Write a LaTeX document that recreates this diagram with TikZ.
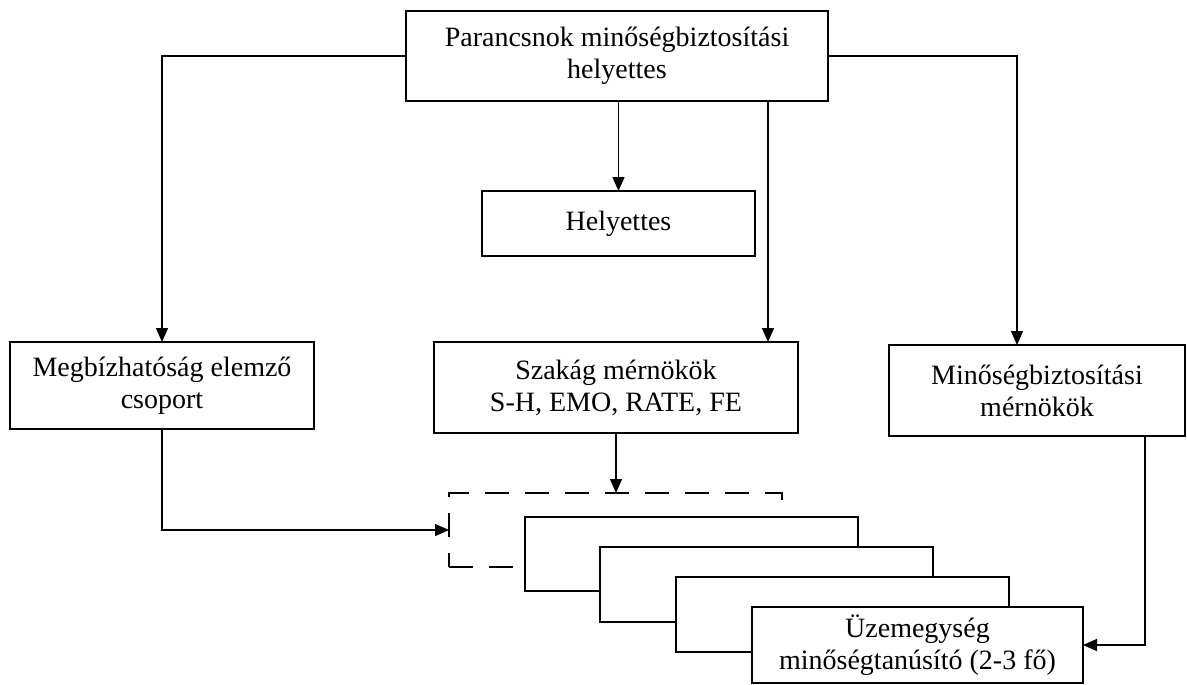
\documentclass[tikz,border=0pt]{standalone}
\usepackage{fontspec}
\setmainfont{Liberation Serif}
\usetikzlibrary{arrows.meta}
\begin{document}
\begin{tikzpicture}[x=1pt,y=-1pt,
  line width=1.4pt,
  box/.style={draw, fill=white, inner sep=0pt, outer sep=0pt, align=center,
    font=\fontsize{28}{32}\selectfont},
  dbox/.style={draw, inner sep=0pt, outer sep=0pt, dash pattern=on 24pt off 16pt},
  arr/.style={-{Triangle[length=14pt,width=12pt]}}]
\useasboundingbox[fill=white] (0,0) rectangle (1187,685);
\node[box, minimum width=422pt, minimum height=90pt] (top) at (617,56) {Parancsnok minőségbiztosítási\\helyettes};
\node[box, minimum width=273pt, minimum height=65pt] (hely) at (618.5,223.5) {Helyettes};
\node[box, minimum width=304pt, minimum height=87pt] (megb) at (162,385.5) {Megbízhatóság elemző\\csoport};
\node[box, minimum width=364pt, minimum height=91pt] (szak) at (616,387.5) {Szakág mérnökök\\S-H, EMO, RATE, FE};
\node[box, minimum width=296pt, minimum height=91pt] (minos) at (1037,390.5) {Minőségbiztosítási\\mérnökök};
\node[dbox, minimum width=333pt, minimum height=74pt] (dash) at (615.5,530) {};
\node[box, minimum width=333pt, minimum height=74pt] (b1) at (691.5,554) {};
\node[box, minimum width=333pt, minimum height=75pt] (b2) at (766.5,584.5) {};
\node[box, minimum width=333pt, minimum height=75pt] (b3) at (842.5,614.5) {};
\node[box, minimum width=331pt, minimum height=76pt] (b4) at (917.5,645) {Üzemegység\\minőségtanúsító (2-3 fő)};
\draw[arr] (top.west) -| (megb.north);
\draw[arr] (top.east) -| ([xshift=-20pt]minos.north);
\draw[arr] (hely.north |- top.south) -- (hely.north);
\draw[arr] ([xshift=151pt]top.south) -- ([xshift=151pt]top.south |- szak.north);
\draw[arr] (szak.south) -- (szak.south |- dash.north);
\draw[arr] (megb.south) |- (dash.west);
\draw[arr] ([xshift=108pt]minos.south) |- (b4.east);
\end{tikzpicture}
\end{document}
